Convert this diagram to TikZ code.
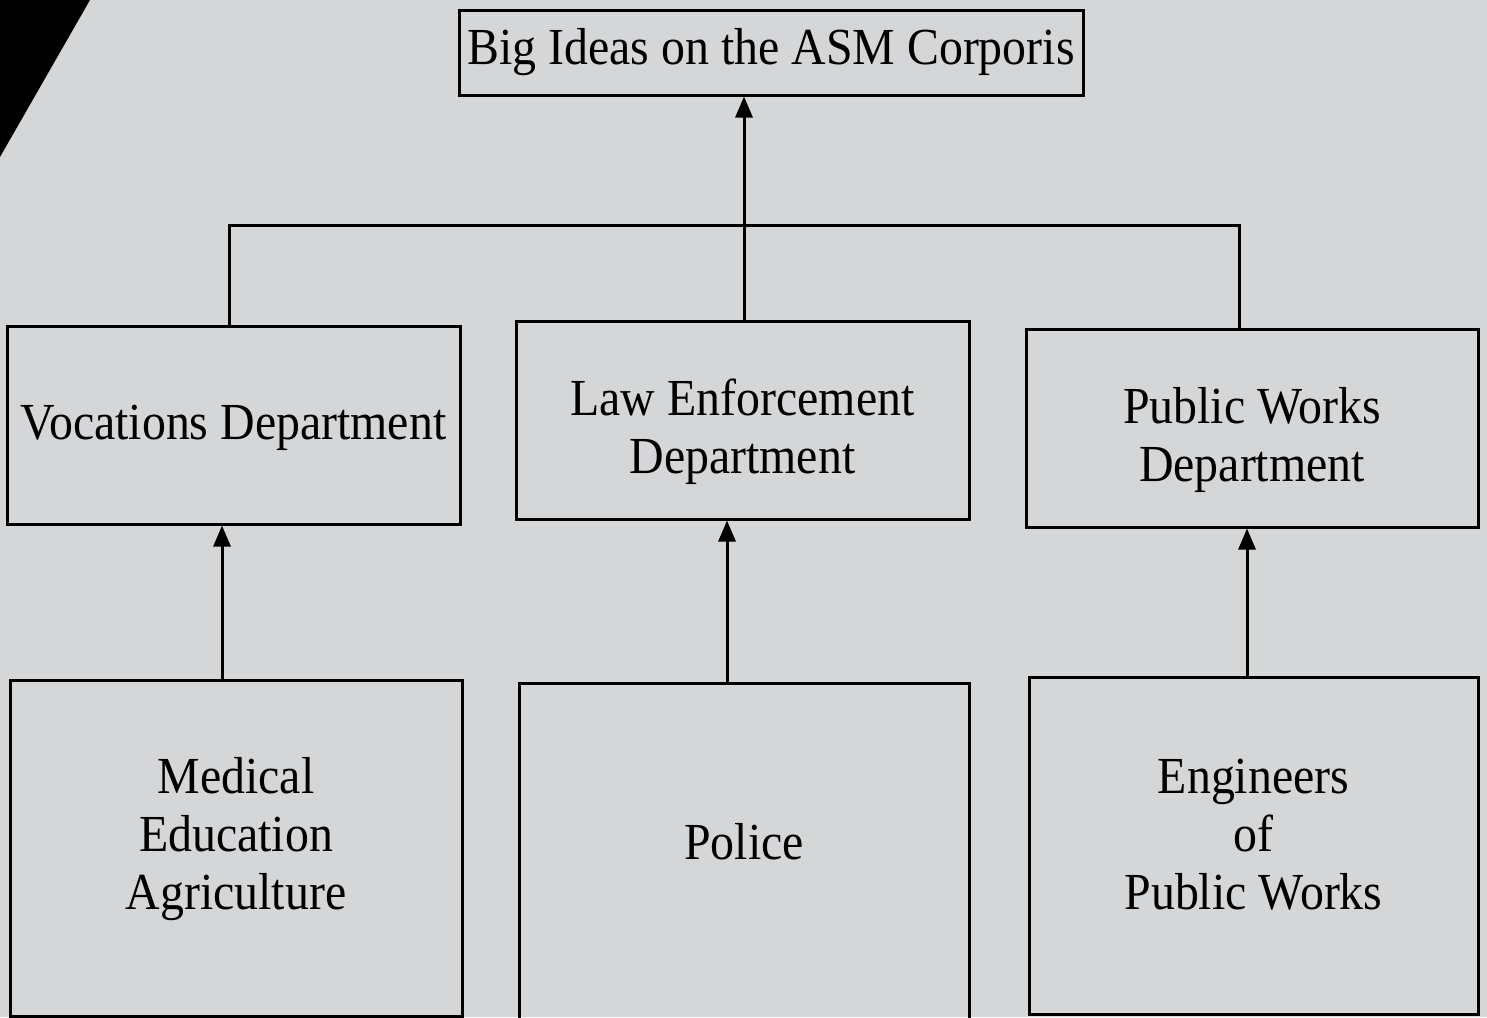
\documentclass[tikz,border=0pt]{standalone}
\usepackage{fontspec}
\setmainfont{Liberation Serif}[FakeStretch=0.92]
\usetikzlibrary{arrows.meta}
\definecolor{bg}{RGB}{213,214,216}
\newcommand{\shiftlines}[3]{\raisebox{#1}[\height][\depth]{\parbox{#2}{\centering #3}}}
\begin{document}
\begin{tikzpicture}[x=1pt,y=-1pt,
  box/.style={draw=black,line width=3pt,rectangle,inner sep=0pt,align=center,
    font=\fontsize{52}{58}\selectfont},
  conn/.style={line width=3pt,draw=black},
  arr/.style={conn,-{Triangle[length=21pt,width=17pt]}}]
\useasboundingbox (0,0) rectangle (1487,1017);
\clip (0,0) rectangle (1487,1017);
\fill[bg] (0,0) rectangle (1487,1017);
\fill[black] (0,0) -- (90,0) -- (0,157) -- cycle;

\node[box,minimum width=624pt,minimum height=85pt] (top) at (771,52.5) {Big Ideas on the ASM Corporis};
\node[box,minimum width=453pt,minimum height=198pt] (voc) at (233.5,425) {\shiftlines{-3pt}{445pt}{Vocations Department}};
\node[box,minimum width=453pt,minimum height=198pt] (law) at (742.5,420) {\shiftlines{-12pt}{445pt}{Law Enforcement\\Department}};
\node[box,minimum width=452pt,minimum height=198pt] (pw) at (1252,428) {\shiftlines{-12pt}{445pt}{Public Works\\Department}};
\node[box,minimum width=452pt,minimum height=336pt] (med) at (236,848) {\shiftlines{9pt}{445pt}{Medical\\Education\\Agriculture}};
\node[box,minimum width=450pt,minimum height=360pt] (pol) at (744,863) {};
\node[font=\fontsize{52}{58}\selectfont] (poltext) at (744,842) {Police};
\node[box,minimum width=449pt,minimum height=337pt] (eng) at (1253.5,845.5) {\shiftlines{11pt}{445pt}{Engineers\\of\\Public Works}};

\coordinate (j1) at ([xshift=-4.5pt]voc.north);
\coordinate (j3) at ([xshift=-13pt]pw.north);
\draw[conn] (j1) -- (j1 |- 0,225) -- (j3 |- 0,225) -- (j3);
\coordinate (j2) at ([xshift=1.5pt]law.north);
\draw[arr] (j2) -- (j2 |- top.south);

\coordinate (a1) at ([xshift=-14pt]med.north);
\draw[arr] (a1) -- (a1 |- voc.south);
\coordinate (a2) at ([xshift=-17pt]pol.north);
\draw[arr] (a2) -- (a2 |- law.south);
\coordinate (a3) at ([xshift=-6.5pt]eng.north);
\draw[arr] (a3) -- (a3 |- pw.south);
\end{tikzpicture}
\end{document}
